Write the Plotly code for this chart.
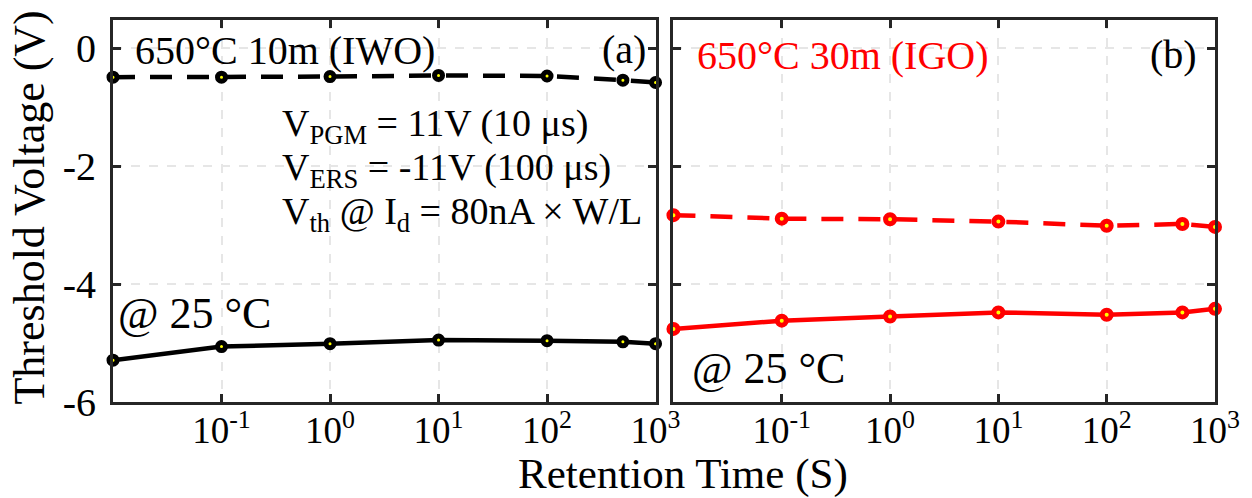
import plotly.graph_objects as go

# ---------------- data ----------------
time_s = [0.01, 0.1, 1, 10, 100, 500, 1000]
iwo_pgm = [-0.49, -0.49, -0.48, -0.46, -0.47, -0.54, -0.58]
iwo_ers = [-5.29, -5.06, -5.01, -4.95, -4.96, -4.98, -5.01]
igo_pgm = [-2.83, -2.89, -2.90, -2.94, -3.01, -2.98, -3.03]
igo_ers = [-4.76, -4.62, -4.55, -4.48, -4.52, -4.48, -4.42]

x_tickvals = [0.1, 1, 10, 100, 1000]
x_ticktext = ["10<sup>-1</sup>", "10<sup>0</sup>", "10<sup>1</sup>", "10<sup>2</sup>", "10<sup>3</sup>"]
y_tickvals = [0, -2, -4, -6]
y_ticktext = ["0", "-2", "-4", "-6"]

# ---------------- layout geometry ----------------
W, H = 1252, 498
L, R, T, B = 113, 1222, 20, 402
PW, PH = R - L, B - T
FONT = "Liberation Serif, Times New Roman, serif"
FRAME = "#262626"
GRID = "#e6e6e6"


def px(xp):
    return (xp - L) / PW


def py(yp):
    return (B - yp) / PH


left_dom = [0, px(659)]
right_dom = [px(677), 1]

fig = go.Figure()


def add_series(xa, ya, y, color, dash, msize):
    fig.add_trace(go.Scatter(
        x=time_s, y=y, xaxis=xa, yaxis=ya, mode="lines+markers",
        line=dict(color=color, width=4.5, dash=dash),
        marker=dict(size=msize, color="#ffff00", line=dict(color=color, width=5)),
        showlegend=False, cliponaxis=False,
    ))


add_series("x", "y", iwo_pgm, "black", "22px,15px", 8)
add_series("x", "y", iwo_ers, "black", "solid", 8)
add_series("x2", "y2", igo_pgm, "#ff0000", "22px,15px", 9)
add_series("x2", "y2", igo_ers, "#ff0000", "solid", 9)

common_x = dict(
    type="log", range=[-2, 3], tickvals=x_tickvals, ticktext=x_ticktext,
    ticks="inside", ticklen=8, tickwidth=2.5, tickcolor=FRAME,
    showline=True, linecolor=FRAME, linewidth=3, mirror="ticks",
    showgrid=True, gridcolor=GRID, griddash="dash", gridwidth=1.5,
    zeroline=False, tickfont=dict(family=FONT, size=37, color="black"),
    ticklabelstandoff=-6,
)
common_y = dict(
    range=[-6, 0.48], tickvals=y_tickvals, ticktext=y_ticktext,
    ticks="inside", ticklen=8, tickwidth=2.5, tickcolor=FRAME,
    showline=True, linecolor=FRAME, linewidth=3, mirror="ticks",
    showgrid=True, gridcolor=GRID, griddash="dash", gridwidth=1.5,
    zeroline=False, tickfont=dict(family=FONT, size=40, color="black"),
)

xa1 = dict(common_x); xa1.update(domain=left_dom, anchor="y")
xa2 = dict(common_x); xa2.update(domain=right_dom, anchor="y2")
ya1 = dict(common_y); ya1.update(domain=[0, 1], anchor="x", ticklabelstandoff=6)
ya2 = dict(common_y); ya2.update(domain=[0, 1], anchor="x2", showticklabels=False)

annotations = []


def ann(text, xp, yp, size, color="black", xanchor="left", angle=0):
    annotations.append(dict(
        text=text, x=px(xp), y=py(yp), xref="paper", yref="paper",
        xanchor=xanchor, yanchor="middle", showarrow=False, textangle=angle,
        font=dict(family=FONT, size=size, color=color),
    ))


ann("650°C 10m (IWO)", 133, 50, 40)
ann("(a)", 651, 49, 40, xanchor="right")
ann("V<sub>PGM</sub> = 11V (10 μs)", 281, 126, 38)
ann("V<sub>ERS</sub> = -11V (100 μs)", 281, 170, 38)
ann("V<sub>th</sub> @ I<sub>d</sub> = 80nA × W/L", 281, 214, 38)
ann("@ 25 °C", 116, 313, 44)
ann("650°C 30m (IGO)", 699, 55, 40, color="#ff0000")
ann("(b)", 1206, 54, 40, xanchor="right")
ann("@ 25 °C", 694, 368, 44)
ann("Threshold Voltage (V)", 28, 208, 44, xanchor="center", angle=-90)
ann("Retention Time (S)", 687, 474, 43, xanchor="center")

fig.update_layout(
    width=W, height=H,
    margin=dict(l=L, r=W - R, t=T, b=H - B, pad=0),
    paper_bgcolor="white", plot_bgcolor="white",
    xaxis=xa1, xaxis2=xa2, yaxis=ya1, yaxis2=ya2,
    annotations=annotations,
    font=dict(family=FONT, color="black"),
)

fig.write_html("out.html")
